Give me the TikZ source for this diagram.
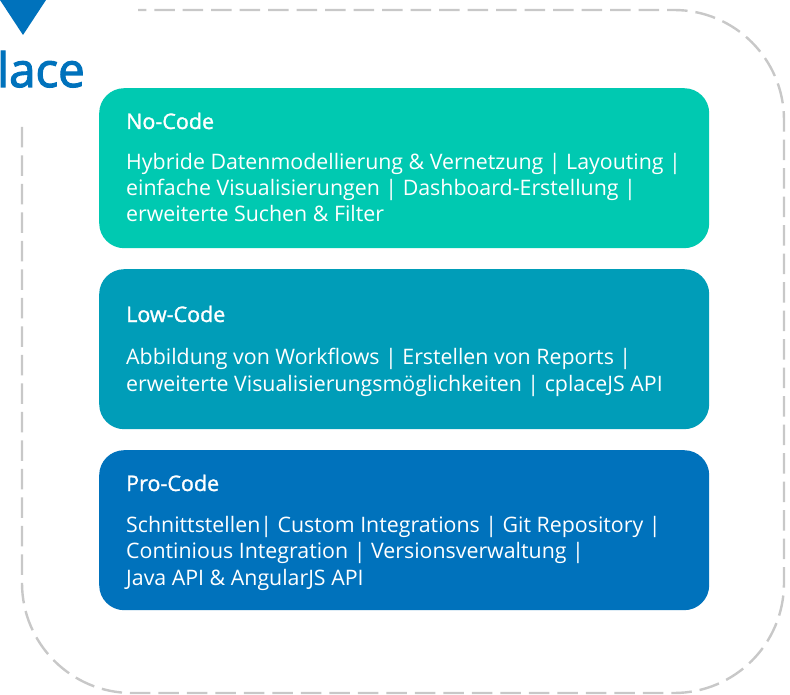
\documentclass[tikz,border=0pt]{standalone}
\usepackage{fontspec}
\setmainfont{Open Sans}
\newfontfamily\ossb[FakeBold=1.3]{Open Sans}
\newfontfamily\osslogo[FakeBold=2.4]{Open Sans}
\definecolor{cgreen}{HTML}{00C9B1}
\definecolor{cteal}{HTML}{009DB8}
\definecolor{cblue}{HTML}{0072BC}
\definecolor{cdash}{HTML}{C8C8C8}
\tikzset{
 band/.style={rectangle,rounded corners=25pt,minimum width=610pt,minimum height=160pt,inner sep=0pt,anchor=north west,draw=none},
 bandtitle/.style={anchor=base west,inner sep=0pt,text=white,font=\fontsize{21.5}{26}\ossb},
 bandbody/.style={anchor=base west,inner sep=0pt,text=white,align=left,font=\fontsize{21.35}{26.2}\selectfont},
 frameline/.style={draw=cdash,line width=2.4pt,dash pattern=on 20.5pt off 7.99pt}
}
\begin{document}
\begin{tikzpicture}[x=1pt,y=-1pt]
\useasboundingbox (0,0) rectangle (790,695);
\clip (0,0) rectangle (790,695);
\fill[white] (0,0) rectangle (790,695);
\draw[frameline] (22,127) -- (22,583) arc[start angle=180,end angle=90,radius=110] -- (674,693)
  arc[start angle=90,end angle=0,radius=110] -- (784,120) arc[start angle=0,end angle=-90,radius=110] -- (138,10);
\fill[cblue] (0,0) -- (46,0) -- (23,35) -- cycle;
\node[anchor=base east,inner sep=0pt,text=cblue,font=\fontsize{47.5}{47.5}\osslogo] (logo) at (85,87) {lace};
\node[band,fill=cgreen] (nocode) at (99,88) {};
\node[band,fill=cteal] (lowcode) at (99,269) {};
\node[band,fill=cblue] (procode) at (99,450) {};
\node[bandtitle] (t1) at (126,129) {No-Code};
\node[bandbody] (b1) at (126,222) {Hybride Datenmodellierung \& Vernetzung | Layouting |\\einfache Visualisierungen | Dashboard-Erstellung |\\erweiterte Suchen \& Filter};
\node[bandtitle] (t2) at (126,322) {Low-Code};
\node[bandbody] (b2) at (126,391) {Abbildung von Workflows | Erstellen von Reports |\\erweiterte Visualisierungsmöglichkeiten | cplaceJS API};
\node[bandtitle] (t3) at (126,491) {Pro-Code};
\node[bandbody] (b3) at (126,585) {Schnittstellen| Custom Integrations | Git Repository |\\Continious Integration | Versionsverwaltung |\\Java API \& AngularJS API};
\end{tikzpicture}
\end{document}
